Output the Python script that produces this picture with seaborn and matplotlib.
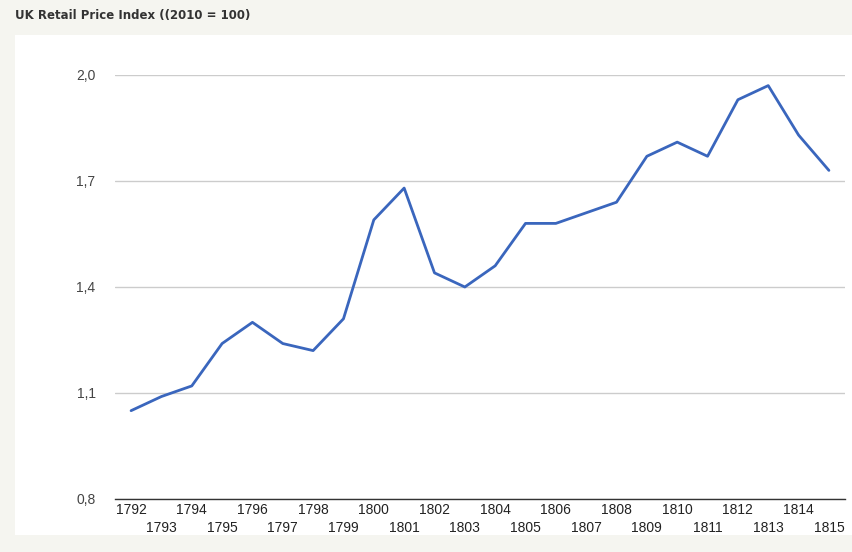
import matplotlib
matplotlib.use("Agg")
import matplotlib.pyplot as plt
import matplotlib.patches as patches
from matplotlib.ticker import FixedLocator, FuncFormatter
import pandas as pd
import seaborn as sns

# RPI per year
years = list(range(1792, 1816))
rpi = [1.05, 1.09, 1.12, 1.24, 1.30, 1.24, 1.22, 1.31, 1.59, 1.68, 1.44, 1.40,
       1.46, 1.58, 1.58, 1.61, 1.64, 1.77, 1.81, 1.77, 1.93, 1.97, 1.83, 1.73]
y_ticks = [0.8, 1.1, 1.4, 1.7, 2.0]
title = "UK Retail Price Index ((2010 = 100)"

df = pd.DataFrame({"year": years, "rpi": rpi})

sns.set_style("white")
plt.rcParams["font.family"] = ["Liberation Sans", "DejaVu Sans"]

W, H = 853, 552
fig = plt.figure(figsize=(W / 100, H / 100), dpi=100, facecolor="#f5f5f0")

# white panel behind the chart
fig.patches.append(patches.Rectangle((15 / W, 1 - 535 / H), (W - 15) / W, 500 / H,
                                     transform=fig.transFigure, facecolor="white",
                                     edgecolor="none", zorder=-5))

ax = fig.add_axes([115 / W, 1 - 499 / H, 730 / W, 424 / H])
ax.set_zorder(2)
ax.set_facecolor("none")

sns.lineplot(data=df, x="year", y="rpi", ax=ax, color="#3a66bd", linewidth=2, zorder=3)

ax.set_xlim(years[0] - 0.53, years[-1] + 0.53)
ax.set_ylim(y_ticks[0], y_ticks[-1])
ax.set_yticks(y_ticks)
ax.yaxis.set_major_formatter(FuncFormatter(lambda v, p: f"{v:.1f}".replace(".", ",")))
ax.grid(axis="y", color="#cccccc", linewidth=1)
ax.set_axisbelow(True)

ax.xaxis.set_major_locator(FixedLocator([y for y in years if y % 2 == 0]))
ax.xaxis.set_minor_locator(FixedLocator([y for y in years if y % 2 == 1]))
ax.xaxis.set_major_formatter(FuncFormatter(lambda v, p: str(int(round(v)))))
ax.xaxis.set_minor_formatter(FuncFormatter(lambda v, p: str(int(round(v)))))
ax.tick_params(axis="x", which="major", length=0, pad=3, labelsize=10, labelcolor="#222222")
ax.tick_params(axis="x", which="minor", length=0, pad=16, labelsize=10, labelcolor="#222222")
ax.tick_params(axis="y", length=0, pad=14, labelsize=10, labelcolor="#444444")

ax.set_xlabel("")
ax.set_ylabel("")
for s in ["top", "right", "left"]:
    ax.spines[s].set_visible(False)
ax.spines["bottom"].set_color("#333333")
ax.spines["bottom"].set_linewidth(1)
ax.spines["bottom"].set_zorder(4)

fig.text(15 / W, 1 - 15 / H, title, fontsize=8.5, fontweight="bold", color="#333333",
         family="DejaVu Sans", va="center", ha="left")

fig.savefig("out.png", dpi=100, facecolor=fig.get_facecolor())
